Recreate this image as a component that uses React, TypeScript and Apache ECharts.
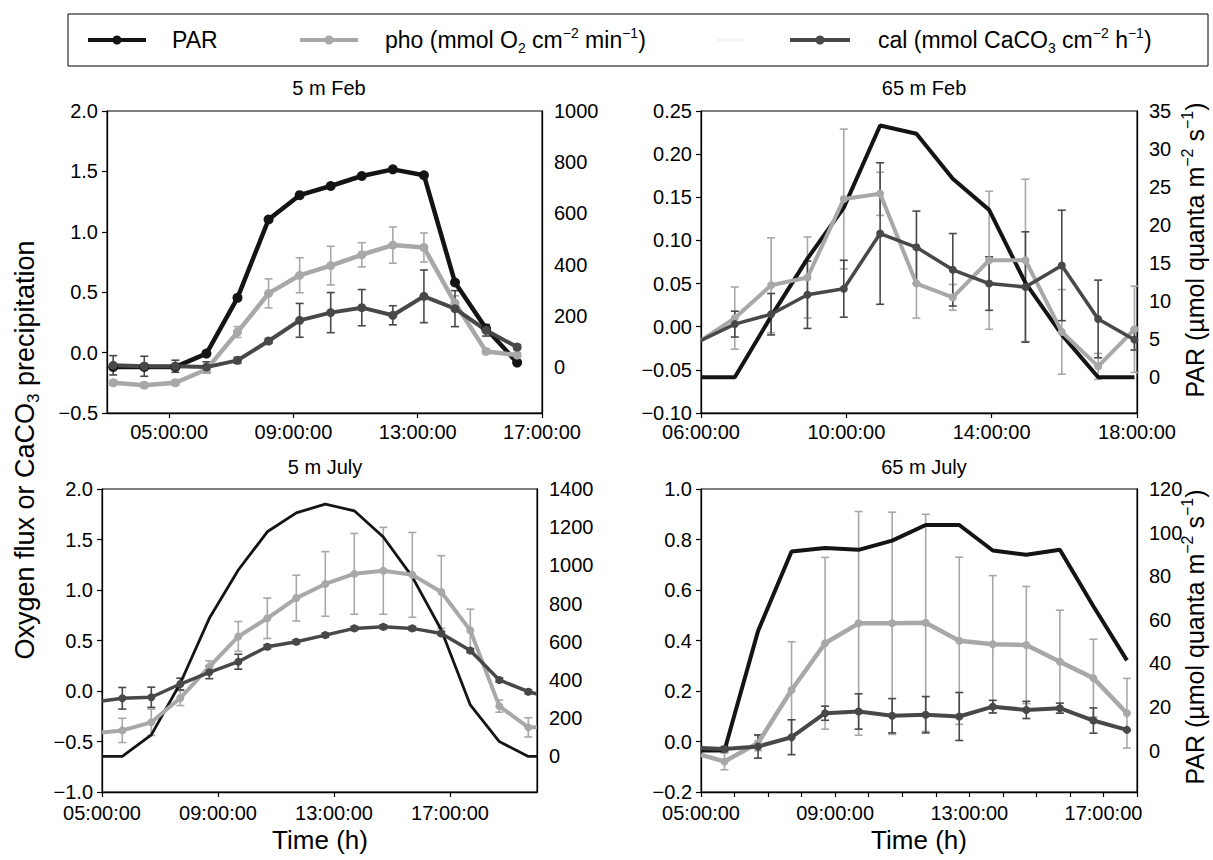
import React, { useEffect, useRef } from "react";
import * as echarts from "echarts";

// ---------------- data ----------------
// 5 m Feb
const febShallowTime = [3.2, 4.2, 5.2, 6.2, 7.2, 8.2, 9.2, 10.2, 11.2, 12.2, 13.2, 14.2, 15.2, 16.2];
const febShallowPAR = [0, 0, 0, 52, 270, 576, 671, 707, 746, 772, 749, 330, 150, 17];
const febShallowPho = [-0.25, -0.27, -0.25, -0.14, 0.17, 0.49, 0.64, 0.72, 0.81, 0.89, 0.87, 0.41, 0.01, -0.02];
const febShallowPhoErr = [0.02, 0.02, 0.02, 0.03, 0.045, 0.12, 0.145, 0.16, 0.1, 0.15, 0.12, 0.06, 0.02, 0.02];
const febShallowCal = [-0.105, -0.113, -0.113, -0.12, -0.064, 0.096, 0.267, 0.331, 0.372, 0.309, 0.466, 0.364, 0.185, 0.046];
const febShallowCalErr = [0.08, 0.083, 0.05, 0.044, 0.025, 0.02, 0.14, 0.166, 0.15, 0.079, 0.218, 0.149, 0.048, 0.02];

// 65 m Feb
const febDeepTime = [6.0, 6.93, 7.93, 8.93, 9.93, 10.93, 11.93, 12.93, 13.93, 14.93, 15.93, 16.93, 17.93];
const febDeepPAR = [0, 0, 8.0, 15.6, 22.3, 33.1, 32.0, 26.1, 22.0, 12.4, 5.6, 0, 0];
const febDeepPho = [-0.016, 0.01, 0.048, 0.057, 0.148, 0.154, 0.05, 0.034, 0.077, 0.077, -0.006, -0.046, -0.003];
const febDeepPhoErr = [null, 0.036, 0.055, 0.047, 0.081, 0.025, 0.04, 0.015, 0.08, 0.094, 0.049, 0.015, 0.05];
const febDeepCal = [-0.016, 0.003, 0.0145, 0.037, 0.044, 0.108, 0.092, 0.066, 0.05, 0.046, 0.071, 0.009, -0.015];
const febDeepCalErr = [null, 0.015, 0.024, 0.039, 0.033, 0.082, 0.042, 0.042, 0.031, 0.064, 0.064, 0.045, 0.012];

// 5 m July
const julyShallowTime = [5.0, 5.7, 6.7, 7.7, 8.7, 9.7, 10.7, 11.7, 12.7, 13.7, 14.7, 15.7, 16.7, 17.7, 18.7, 19.7, 20.0];
const julyShallowPAR = [0, 0, 113, 383, 723, 976, 1176, 1275, 1321, 1286, 1149, 940, 662, 270, 78, 0, 0];
const julyShallowPho = [-0.41, -0.39, -0.31, -0.07, 0.24, 0.54, 0.72, 0.92, 1.06, 1.16, 1.19, 1.15, 0.98, 0.6, -0.15, -0.36, -0.36];
const julyShallowPhoErr = [null, 0.12, 0.13, 0.074, 0.058, 0.148, 0.2, 0.227, 0.32, 0.4, 0.43, 0.42, 0.36, 0.21, 0.06, 0.095, null];
const julyShallowCal = [-0.099, -0.072, -0.062, 0.069, 0.185, 0.29, 0.438, 0.487, 0.553, 0.62, 0.635, 0.62, 0.57, 0.4, 0.109, -0.007, -0.03];
const julyShallowCalErr = [null, 0.107, 0.1, 0.058, 0.063, 0.074, 0.02, 0.02, 0.02, 0.02, 0.02, 0.02, 0.02, 0.02, 0.02, 0.02, null];

// 65 m July
const julyDeepTime = [5.0, 5.7, 6.7, 7.7, 8.7, 9.7, 10.7, 11.7, 12.7, 13.7, 14.7, 15.7, 16.7, 17.7];
const julyDeepPAR = [0, 0, 54.8, 91.3, 92.9, 92.1, 96.3, 103.5, 103.5, 91.8, 89.8, 92.1, 66.2, 41.4];
const julyDeepPho = [-0.053, -0.079, -0.006, 0.204, 0.389, 0.468, 0.468, 0.47, 0.399, 0.385, 0.382, 0.316, 0.251, 0.112];
const julyDeepPhoErr = [null, 0.033, 0.03, 0.191, 0.34, 0.443, 0.44, 0.43, 0.331, 0.272, 0.232, 0.204, 0.154, 0.138];
const julyDeepCal = [-0.026, -0.03, -0.02, 0.017, 0.112, 0.119, 0.102, 0.106, 0.099, 0.138, 0.125, 0.132, 0.083, 0.046];
const julyDeepCalErr = [null, 0.01, 0.046, 0.069, 0.028, 0.07, 0.068, 0.072, 0.095, 0.025, 0.034, 0.02, 0.05, 0.0];

// tick labels
const febShallowXLabels = [5, 9, 13, 17];
const febDeepXLabels = [6, 10, 14, 18];
const julyShallowXLabels = [5, 9, 13, 17];
const julyDeepXLabels = [5, 9, 13, 17];
const julyDeepXTicks = [5, 6, 7, 8, 9, 10, 11, 12, 13, 14, 15, 16, 17, 18];
const febShallowParLabels = [0, 200, 400, 600, 800, 1000];
const febDeepParLabels = [0, 5, 10, 15, 20, 25, 30, 35];
const julyShallowParLabels = [0, 200, 400, 600, 800, 1000, 1200, 1400];
const julyDeepParLabels = [0, 20, 40, 60, 80, 100, 120];

// ---------------- styles ----------------
const FONT = '"Liberation Sans", Arial, Helvetica, sans-serif';
const BLACK = "#141414";
const LIGHT = "#a8a8a8";
const DARK = "#484848";
const MINUS = "\u2212";

const hhmm = (v: number) => (v < 10 ? "0" : "") + v + ":00:00";
const fmt = (d: number) => (v: number) => (v < -1e-9 ? MINUS : "") + Math.abs(v).toFixed(d);

const panels = [
  {
    title: "5 m Feb", titleX: 324, titleY: 73,
    grid: { left: 107, top: 111, width: 435, height: 302 },
    xMin: 3, xMax: 17, xLabels: febShallowXLabels, xTicks: febShallowXLabels, xMargin: 9,
    yMin: -0.5, yMax: 2, yStep: 0.5, yDec: 1,
    rMin: -180, rMax: 1000, rLabels: febShallowParLabels,
    time: febShallowTime, par: febShallowPAR, pho: febShallowPho, phoErr: febShallowPhoErr,
    cal: febShallowCal, calErr: febShallowCalErr,
    parSymbol: true, parWidth: 4.5, lineWidth: 4.5, sym: 9,
  },
  {
    title: "65 m Feb", titleX: 919, titleY: 73,
    grid: { left: 701, top: 111, width: 436, height: 302 },
    xMin: 6, xMax: 18, xLabels: febDeepXLabels, xTicks: febDeepXLabels, xMargin: 9,
    yMin: -0.1, yMax: 0.25, yStep: 0.05, yDec: 2,
    rMin: -4.7, rMax: 35, rLabels: febDeepParLabels,
    time: febDeepTime, par: febDeepPAR, pho: febDeepPho, phoErr: febDeepPhoErr,
    cal: febDeepCal, calErr: febDeepCalErr,
    parSymbol: false, parWidth: 4, lineWidth: 4, sym: 8,
  },
  {
    title: "5 m July", titleX: 320, titleY: 452,
    grid: { left: 102, top: 489, width: 435, height: 303 },
    xMin: 5, xMax: 20, xLabels: julyShallowXLabels, xTicks: julyShallowXLabels, xMargin: 11,
    yMin: -1, yMax: 2, yStep: 0.5, yDec: 1,
    rMin: -186, rMax: 1400, rLabels: julyShallowParLabels,
    time: julyShallowTime, par: julyShallowPAR, pho: julyShallowPho, phoErr: julyShallowPhoErr,
    cal: julyShallowCal, calErr: julyShallowCalErr,
    parSymbol: false, parWidth: 2.8, lineWidth: 4, sym: 8,
  },
  {
    title: "65 m July", titleX: 919, titleY: 452,
    grid: { left: 701, top: 489, width: 436, height: 303 },
    xMin: 5, xMax: 18, xLabels: julyDeepXLabels, xTicks: julyDeepXTicks, xMargin: 11,
    yMin: -0.2, yMax: 1, yStep: 0.2, yDec: 1,
    rMin: -19, rMax: 120, rLabels: julyDeepParLabels,
    time: julyDeepTime, par: julyDeepPAR, pho: julyDeepPho, phoErr: julyDeepPhoErr,
    cal: julyDeepCal, calErr: julyDeepCalErr,
    parSymbol: false, parWidth: 4, lineWidth: 4.5, sym: 8,
  },
];

const lineData = (time: number[], vals: number[], errs?: (number | null)[]) =>
  time.map((t, i) => {
    const item: any = { value: [t, vals[i]] };
    if (errs && errs[i] == null) item.symbol = "none";
    return item;
  });

const errData = (time: number[], vals: number[], errs: (number | null)[]) => {
  const out: number[][] = [];
  time.forEach((t, i) => {
    const e = errs[i];
    if (e != null) out.push([t, vals[i] - e, vals[i] + e]);
  });
  return out;
};

const errSeries = (i: number, data: number[][], color: string) => ({
  type: "custom",
  xAxisIndex: i,
  yAxisIndex: i * 2,
  data,
  silent: true,
  encode: { x: 0, y: [1, 2] },
  renderItem: (_params: any, api: any) => {
    const lo = api.coord([api.value(0), api.value(1)]);
    const hi = api.coord([api.value(0), api.value(2)]);
    const w = 4;
    const style = { stroke: color, lineWidth: 1.6 };
    return {
      type: "group",
      children: [
        { type: "line", shape: { x1: lo[0], y1: lo[1], x2: hi[0], y2: hi[1] }, style },
        { type: "line", shape: { x1: lo[0] - w, y1: lo[1], x2: lo[0] + w, y2: lo[1] }, style },
        { type: "line", shape: { x1: hi[0] - w, y1: hi[1], x2: hi[0] + w, y2: hi[1] }, style },
      ],
    };
  },
});

const richBase = (size: number) => ({
  a: { fontSize: size, fontFamily: FONT, fill: "#000", color: "#000", lineHeight: size + 6 },
  sup: { fontSize: Math.round(size * 0.62), fontFamily: FONT, fill: "#000", color: "#000", lineHeight: Math.round(size * 0.7), verticalAlign: "top" },
  sub: { fontSize: Math.round(size * 0.62), fontFamily: FONT, fill: "#000", color: "#000", lineHeight: Math.round(size * 0.6), verticalAlign: "bottom" },
});

const richText = (x: number, y: number, text: string, size: number, rotation = 0, align = "center") => ({
  type: "text",
  x,
  y,
  rotation,
  silent: true,
  style: {
    text,
    rich: richBase(size),
    fontSize: size,
    fontFamily: FONT,
    fill: "#000",
    align,
    textAlign: align,
    verticalAlign: "middle",
    textVerticalAlign: "middle",
  },
});

const legendIcon = (x1: number, x2: number, y: number, color: string) => [
  { type: "line", silent: true, shape: { x1, y1: y, x2, y2: y }, style: { stroke: color, lineWidth: 4 } },
  { type: "circle", silent: true, shape: { cx: (x1 + x2) / 2, cy: y, r: 4.5 }, style: { fill: color } },
];

function buildOption() {
  const grid = panels.map((p) => ({
    ...p.grid,
    show: true,
    borderColor: "#000",
    borderWidth: 1,
    backgroundColor: "rgba(0,0,0,0)",
  }));

  const axisLine = { show: true, onZero: false, lineStyle: { color: "#000", width: 1.3 } };
  const labelStyle = { color: "#000", fontSize: 20, fontFamily: FONT };

  const xAxis = panels.map((p, i) => ({
    type: "value",
    gridIndex: i,
    min: p.xMin,
    max: p.xMax,
    axisLine,
    axisTick: { show: true, customValues: p.xTicks, length: 5, lineStyle: { color: "#000", width: 1.2 } },
    axisLabel: { ...labelStyle, customValues: p.xLabels, formatter: hhmm, margin: p.xMargin },
    splitLine: { show: false },
  }));

  const yAxis: any[] = [];
  panels.forEach((p, i) => {
    yAxis.push({
      type: "value",
      gridIndex: i,
      position: "left",
      min: p.yMin,
      max: p.yMax,
      interval: p.yStep,
      axisLine,
      axisTick: { show: true, length: 5, lineStyle: { color: "#000", width: 1.2 } },
      axisLabel: { ...labelStyle, formatter: fmt(p.yDec), margin: 9 },
      splitLine: { show: false },
    });
    yAxis.push({
      type: "value",
      gridIndex: i,
      position: "right",
      min: p.rMin,
      max: p.rMax,
      axisLine,
      axisTick: { show: false },
      axisLabel: { ...labelStyle, customValues: p.rLabels, formatter: (v: number) => String(v), margin: 12 },
      splitLine: { show: false },
    });
  });

  const series: any[] = [];
  panels.forEach((p, i) => {
    series.push({
      type: "line",
      name: "PAR",
      xAxisIndex: i,
      yAxisIndex: i * 2 + 1,
      data: lineData(p.time, p.par),
      symbol: "circle",
      symbolSize: p.sym + 1,
      showSymbol: p.parSymbol,
      lineStyle: { color: BLACK, width: p.parWidth },
      itemStyle: { color: BLACK },
      silent: true,
    });
    series.push(errSeries(i, errData(p.time, p.pho, p.phoErr), LIGHT));
    series.push({
      type: "line",
      name: "pho",
      xAxisIndex: i,
      yAxisIndex: i * 2,
      data: lineData(p.time, p.pho, p.phoErr),
      symbol: "circle",
      symbolSize: p.sym,
      lineStyle: { color: LIGHT, width: p.lineWidth },
      itemStyle: { color: LIGHT },
      silent: true,
    });
    series.push(errSeries(i, errData(p.time, p.cal, p.calErr), DARK));
    series.push({
      type: "line",
      name: "cal",
      xAxisIndex: i,
      yAxisIndex: i * 2,
      data: lineData(p.time, p.cal, p.calErr),
      symbol: "circle",
      symbolSize: p.sym,
      lineStyle: { color: DARK, width: p.lineWidth - 0.5 },
      itemStyle: { color: DARK },
      silent: true,
    });
  });

  const title = panels.map((p) => ({
    text: p.title,
    left: p.titleX,
    top: p.titleY,
    textAlign: "center",
    textStyle: { fontSize: 20, fontWeight: "normal", color: "#000", fontFamily: FONT },
  }));

  const parTitle = "{a|PAR (µmol quanta m}{sup|\u22122}{a| s}{sup|\u22121}{a|)}";
  const graphic: any[] = [
    // legend box
    { type: "rect", silent: true, shape: { x: 68, y: 14, width: 1140, height: 52 }, style: { fill: "none", stroke: "#000", lineWidth: 1 } },
    ...legendIcon(88, 146, 40, BLACK),
    richText(172, 40, "{a|PAR}", 23, 0, "left"),
    ...legendIcon(300, 358, 40, LIGHT),
    richText(385, 40, "{a|pho (mmol O}{sub|2}{a| cm}{sup|\u22122}{a| min}{sup|\u22121}{a|)}", 23, 0, "left"),
    { type: "line", silent: true, shape: { x1: 718, y1: 40, x2: 745, y2: 40 }, style: { stroke: "#f2f2f2", lineWidth: 3 } },
    ...legendIcon(790, 850, 40, DARK),
    richText(878, 40, "{a|cal (mmol CaCO}{sub|3}{a| cm}{sup|\u22122}{a| h}{sup|\u22121}{a|)}", 23, 0, "left"),
    // axis titles
    richText(25, 450, "{a|Oxygen flux or CaCO}{sub|3}{a| precipitation}", 27, Math.PI / 2),
    richText(1195, 250, parTitle, 25, Math.PI / 2),
    richText(1195, 637, parTitle, 25, Math.PI / 2),
    richText(320, 840, "{a|Time (h)}", 26),
    richText(919, 840, "{a|Time (h)}", 26),
  ];

  return {
    animation: false,
    backgroundColor: "#fff",
    title,
    grid,
    xAxis,
    yAxis,
    series,
    graphic,
  };
}

export default function App() {
  const ref = useRef<HTMLDivElement>(null);
  useEffect(() => {
    if (!ref.current) return;
    const chart = echarts.init(ref.current, null, { renderer: "svg" });
    chart.setOption(buildOption() as any);
    return () => chart.dispose();
  }, []);
  return (
    <div
      ref={ref}
      style={{ position: "absolute", left: 0, top: 0, width: 1213, height: 860, background: "#fff" }}
    />
  );
}
